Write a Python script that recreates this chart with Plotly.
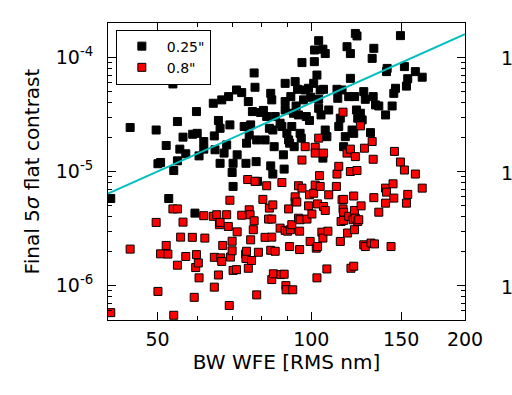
import plotly.graph_objects as go

# ---- data ----
black_x = [40.5, 44.2, 49.7, 50.1, 50.7, 52.0, 53.6, 53.8, 52.6, 54.7,
           54.7, 55.3, 56.1, 56.8, 58.6, 59.6, 59.8, 60.3, 59.2, 61.6,
           61.6, 64.3, 64.6, 64.8, 65.8, 66.3, 66.3, 66.8, 67.5, 68.3,
           68.9, 69.3, 70.0, 70.3, 70.3, 71.4, 71.6, 73.1, 73.9, 74.5,
           74.7, 75.3, 75.6, 76.1, 76.7, 77.3, 77.6, 78.0, 78.2, 78.5,
           79.6, 80.6, 81.2, 81.8, 82.8, 83.3, 83.3, 83.7, 84.1, 84.6,
           84.1, 85.0, 86.9, 87.6, 88.2, 88.5, 88.9, 88.9, 88.9, 89.6,
           90.3, 90.7, 91.2, 91.6, 92.3, 92.6, 93.0, 93.4, 94.0, 94.4,
           95.1, 95.6, 95.9, 96.6, 97.3, 97.8, 98.8, 99.2, 99.8, 101.1,
           101.4, 101.5, 102.6, 103.4, 103.4, 103.4, 104.1, 104.5, 105.4, 105.4,
           105.7, 106.5, 106.5, 107.3, 108.2, 112.3, 112.7, 113.2, 114.0, 114.9,
           115.7, 116.6, 117.5, 118.4, 119.3, 119.3, 120.2, 121.1, 122.0, 122.9,
           121.6, 122.6, 123.3, 124.8, 125.8, 126.7, 127.6, 131.6, 132.6, 130.6,
           132.2, 133.6, 135.6, 139.8, 140.4, 140.8, 144.0, 145.1, 146.2, 149.5,
           152.2, 153.6, 154.5, 159.9, 164.9]
black_y = [5.8e-6, 2.43e-5, 2.31e-5, 1.17e-5, 1.20e-5, 1.69e-5, 5.85e-5, 1.02e-5, 5.8e-6, 2.74e-5,
           1.24e-5, 1.57e-5, 2.0e-5, 1.43e-5, 2.12e-5, 3.35e-5, 2.16e-5, 1.37e-5, 4.32e-6, 1.83e-5,
           1.57e-5, 3.96e-5, 2.05e-5, 1.55e-5, 2.80e-5, 2.39e-5, 1.18e-5, 4.24e-5, 1.45e-5, 1.71e-5,
           4.53e-5, 2.56e-5, 9.8e-6, 7.4e-6, 1.18e-5, 5.18e-5, 1.40e-5, 4.91e-5, 2.48e-5, 1.18e-5,
           1.77e-5, 4.10e-5, 2.09e-5, 2.56e-5, 3.35e-5, 7.3e-5, 5.47e-5, 1.22e-5, 1.89e-5, 8.2e-6,
           3.29e-5, 3.43e-5, 1.89e-5, 3.03e-5, 2.39e-5, 4.84e-5, 1.12e-5, 4.24e-5, 9.5e-6, 1.65e-5,
           2.31e-5, 3.03e-5, 2.65e-5, 2.48e-5, 1.40e-5, 1.05e-5, 5.92e-5, 4.10e-5, 3.46e-5, 2.16e-5,
           1.89e-5, 1.77e-5, 4.53e-5, 2.48e-5, 3.24e-5, 1.65e-5, 6.13e-5, 3.75e-5, 5.25e-5, 3.13e-5,
           2.16e-5, 1.96e-5, 9.0e-5, 4.24e-5, 5.18e-5, 3.03e-5, 5.36e-5, 2.80e-5, 4.47e-5, 5.92e-5,
           9.17e-5, 1.16e-4, 7.0e-5, 1.40e-4, 4.29e-5, 3.58e-5, 5.18e-5, 3.13e-5, 1.18e-4, 1.31e-5,
           5.25e-5, 1.08e-4, 2.31e-5, 2.02e-5, 3.46e-5, 5.25e-5, 4.38e-5, 2.48e-5, 2.93e-5, 5.18e-5,
           1.65e-5, 2.02e-5, 1.24e-4, 4.53e-5, 1.08e-4, 6.55e-5, 2.31e-5, 2.16e-5, 1.62e-4, 1.54e-4,
           4.53e-5, 3.46e-5, 2.93e-5, 3.24e-5, 2.83e-5, 5.01e-5, 4.29e-5, 9.8e-5, 1.20e-4, 2.19e-5,
           4.53e-5, 3.83e-5, 3.75e-5, 3.13e-5, 7.5e-5, 8.0e-5, 3.75e-5, 4.84e-5, 5.36e-5, 1.55e-4,
           8.3e-5, 5.6e-5, 6.5e-5, 7.5e-5, 6.7e-5]

red_x = [40.5, 44.2, 49.7, 50.1, 50.7, 52.0, 52.4, 53.6, 53.8, 54.7,
         54.7, 55.5, 56.1, 56.8, 58.5, 59.0, 59.4, 59.6, 60.1, 60.3,
         61.6, 61.9, 64.3, 64.6, 64.6, 65.3, 65.8, 66.1, 66.3, 66.5,
         66.8, 67.1, 68.3, 68.8, 69.3, 69.1, 69.5, 70.0, 70.0, 70.3,
         71.4, 71.6, 73.1, 74.4, 74.5, 74.7, 75.1, 75.3, 75.6, 75.9,
         76.1, 76.4, 77.0, 77.3, 77.6, 78.2, 78.8, 80.4, 81.2, 81.8,
         82.5, 82.8, 83.3, 83.7, 83.7, 83.7, 84.1, 84.3, 85.0, 86.9,
         87.2, 87.6, 88.5, 88.9, 89.2, 89.3, 89.9, 90.3, 90.7, 91.0,
         91.6, 92.0, 93.0, 93.0, 93.7, 94.4, 94.4, 94.9, 94.9, 95.1,
         95.9, 95.9, 97.3, 98.1, 98.8, 99.2, 99.5, 100.3, 101.1, 101.8,
         101.8, 101.8, 102.3, 102.6, 102.9, 102.9, 103.4, 103.8, 104.1, 104.9,
         105.4, 105.7, 105.7, 106.5, 107.3, 107.8, 108.2, 112.0, 112.3, 113.2,
         114.0, 114.4, 114.9, 115.4, 115.7, 115.7, 115.7, 115.4, 117.5, 117.8,
         118.4, 119.3, 119.3, 119.6, 120.7, 121.1, 121.1, 121.5, 121.5, 122.0,
         122.0, 122.9, 123.3, 123.9, 124.8, 125.2, 126.7, 127.1, 127.6, 130.9,
         131.6, 132.2, 132.6, 133.0, 135.6, 139.8, 139.8, 140.4, 143.3, 144.6,
         145.1, 145.5, 149.5, 152.2, 153.6, 154.5, 159.9, 164.9]
red_y = [5.8e-7, 2.09e-6, 3.58e-6, 8.9e-7, 1.9e-6, 2.25e-6, 1.89e-6, 4.7e-6, 5.5e-7, 4.7e-6,
         1.51e-6, 2.66e-6, 3.6e-6, 1.8e-6, 2.65e-6, 7.9e-7, 1.44e-6, 1.87e-6, 1.58e-6, 1.17e-6,
         4.1e-6, 2.61e-6, 4.05e-6, 1.77e-6, 9.7e-7, 4.18e-6, 1.24e-6, 3.42e-6, 3.58e-6, 1.75e-6,
         1.63e-6, 2.25e-6, 4.18e-6, 3.3e-6, 5.6e-6, 6.7e-7, 1.78e-6, 2.02e-6, 2.45e-6, 1.36e-6,
         1.38e-6, 2.96e-6, 4.14e-6, 1.89e-6, 1.73e-6, 2.0e-6, 8.5e-6, 1.42e-6, 4.62e-6, 4.18e-6,
         2.52e-6, 1.66e-6, 3.09e-6, 3.7e-6, 8.2e-6, 8.3e-7, 1.96e-6, 5.7e-6, 2.65e-6, 7.5e-6,
         3.83e-6, 4.78e-6, 2.04e-6, 3.83e-6, 2.66e-6, 1.13e-6, 5.1e-6, 1.27e-6, 2.0e-6, 3.19e-6,
         1.25e-6, 8.0e-6, 1.26e-6, 3.05e-6, 1.0e-6, 9.2e-7, 3.0e-6, 4.7e-6, 2.2e-6, 3.09e-6,
         3.42e-6, 9.2e-7, 5.46e-6, 6.0e-6, 5.4e-6, 7.5e-6, 3.9e-6, 3.0e-6, 2.07e-6, 3.78e-6,
         1.26e-5, 7.15e-6, 1.65e-5, 3.83e-6, 5.0e-6, 6.25e-6, 2.44e-6, 4.24e-6, 6.45e-6, 1.63e-5,
         1.45e-5, 7.6e-6, 2.13e-6, 1.17e-6, 5.2e-6, 2.2e-6, 1.96e-5, 9.2e-6, 7.4e-6, 2.94e-6,
         2.61e-6, 1.45e-5, 4.94e-6, 4.56e-6, 1.4e-6, 3.0e-6, 6.25e-6, 7.4e-6, 9.5e-6, 1.11e-5,
         2.44e-6, 3.65e-6, 5.65e-6, 4.7e-6, 5.7e-6, 4.4e-6, 3.73e-6, 3.31e-5, 1.45e-5, 2.89e-6,
         4.05e-6, 1.57e-5, 1.0e-5, 1.42e-6, 3.78e-6, 6.1e-6, 1.48e-6, 4.56e-6, 3.09e-6, 1.35e-5,
         3.9e-6, 1.02e-5, 3.65e-6, 3.78e-6, 2.51e-5, 5.0e-6, 2.28e-6, 1.6e-5, 2.2e-6, 2.36e-6,
         1.83e-5, 1.28e-5, 5.9e-6, 2.32e-6, 4.4e-6, 5.28e-6, 7.15e-6, 6.6e-6, 2.2e-6, 7.8e-6,
         5.85e-6, 1.5e-5, 1.21e-5, 1.03e-5, 5.28e-6, 6.3e-6, 9.5e-6, 7.15e-6]

fit_x = [40, 200]
fit_y = [6.4e-6, 1.6e-4]

series_names = ['0.25"', '0.8"']
x_tick_vals = [50, 100, 150, 200]
x_tick_text = ["50", "100", "150", "200"]
y_tick_vals = [1e-6, 1e-5, 1e-4]
y_tick_exp = [-6, -5, -4]
y_tick_text = ["10<sup>-6</sup>", "10<sup>-5</sup>", "10<sup>-4</sup>"]
x_minor_vals = [60, 70, 80, 90]
y_minor_vals = [m * 10.0 ** e for e in (-7, -6, -5) for m in range(2, 10)]
x_title = "BW WFE [RMS nm]"
y_title = "Final 5<i>σ</i> flat contrast"

FONT = "DejaVu Sans"

fig = go.Figure()
fig.add_trace(go.Scatter(
    x=black_x, y=black_y, mode="markers", name=series_names[0],
    marker=dict(symbol="square", size=8, color="black",
                line=dict(color="black", width=1))))
fig.add_trace(go.Scatter(
    x=red_x, y=red_y, mode="markers", name=series_names[1],
    marker=dict(symbol="square", size=8, color="#ff0000",
                line=dict(color="black", width=1))))
fig.add_trace(go.Scatter(
    x=fit_x, y=fit_y, mode="lines", showlegend=False,
    line=dict(color="#00bfbf", width=2)))

axis_common = dict(
    type="log", showgrid=False, zeroline=False,
    showline=True, linecolor="black", linewidth=1, mirror="ticks",
    ticks="inside", ticklen=8, tickwidth=1, tickcolor="black",
    tickfont=dict(family=FONT, size=19, color="black"),
)

fig.update_xaxes(
    **axis_common,
    range=[1.60206, 2.30103],
    tickmode="array", tickvals=x_tick_vals, ticktext=x_tick_text,
    minor=dict(tickmode="array", tickvals=x_minor_vals, ticks="inside",
               ticklen=4, tickcolor="black", showgrid=False),
    ticklabelstandoff=2,
    title=dict(text=x_title, font=dict(family=FONT, size=20, color="black"),
               standoff=6),
)
fig.update_yaxes(
    **axis_common,
    range=[-6.30103, -3.69897],
    tickmode="array", tickvals=y_tick_vals, ticktext=y_tick_text,
    minor=dict(tickmode="array", tickvals=y_minor_vals, ticks="inside",
               ticklen=4, tickcolor="black", showgrid=False),
    ticklabelstandoff=10,
    title=dict(text=y_title, font=dict(family=FONT, size=20, color="black"),
               standoff=10),
)

# tick labels of the neighbouring panel, cut by the image edge
for lab, ex in zip(y_tick_text, y_tick_exp):
    fig.add_annotation(x=1.098, xref="paper", y=ex, yref="y", text=lab,
                       showarrow=False, xanchor="left", borderpad=0,
                       font=dict(family=FONT, size=19, color="black"))

fig.update_layout(
    width=512, height=395,
    margin=dict(l=108, r=47, t=23, b=75),
    paper_bgcolor="white", plot_bgcolor="white",
    font=dict(family=FONT, color="black"),
    showlegend=True,
    legend=dict(x=0.022, y=0.978, xanchor="left", yanchor="top",
                bgcolor="white", bordercolor="black", borderwidth=1,
                font=dict(family=FONT, size=14, color="black"),
                itemwidth=40, tracegroupgap=2),
)

fig.write_html("out.html", config={"displayModeBar": False},
               post_script="document.body.style.margin='0';document.body.style.padding='0';")
